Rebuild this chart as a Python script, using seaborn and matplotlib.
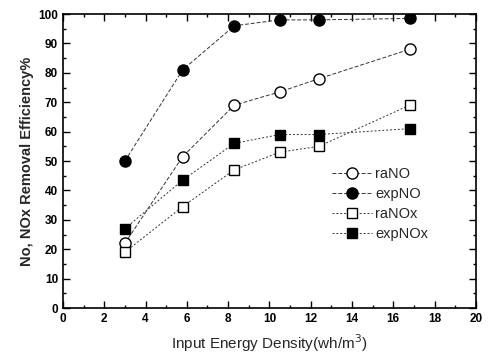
import matplotlib
matplotlib.use("Agg")
import matplotlib.pyplot as plt
import seaborn as sns
import pandas as pd
from matplotlib.ticker import MultipleLocator

energy = [3.0, 5.8, 8.3, 10.5, 12.4, 16.8]
raNO = [22, 51.5, 69, 73.5, 78, 88]
expNO = [50, 81, 96, 98, 98, 98.5]
raNOx = [19, 34.5, 47, 53, 55, 69]
expNOx = [27, 43.5, 56, 59, 59, 61]

sns.set_theme(style="ticks")
plt.rcParams['font.family'] = ['Liberation Sans', 'DejaVu Sans']

fig = plt.figure(figsize=(4.88, 3.59), dpi=100)
ax = fig.add_axes([0.129, 0.142, 0.846, 0.819])

series = [
    ("raNO", raNO, "o", "white", (0, (4, 2))),
    ("expNO", expNO, "o", "black", (0, (4, 2))),
    ("raNOx", raNOx, "s", "white", (0, (2, 2))),
    ("expNOx", expNOx, "s", "black", (0, (2, 2))),
]
for name, vals, mk, fc, ls in series:
    df = pd.DataFrame({"x": energy, "y": vals})
    sns.lineplot(data=df, x="x", y="y", ax=ax, color="#333333", lw=0.7,
                 linestyle=ls, marker=mk, markersize=8 if mk == "o" else 7,
                 markerfacecolor=fc, markeredgecolor="black",
                 markeredgewidth=1.0, label=name)

ax.set_xlim(0, 20)
ax.set_ylim(0, 100)
ax.xaxis.set_major_locator(MultipleLocator(2))
ax.xaxis.set_minor_locator(MultipleLocator(1))
ax.yaxis.set_major_locator(MultipleLocator(10))
ax.yaxis.set_minor_locator(MultipleLocator(5))
ax.tick_params(which="both", direction="in", top=True, right=True,
               labelsize=8.5, width=1.0, colors="black")
ax.tick_params(which="major", length=5)
ax.tick_params(which="minor", length=2.5)
for lab in ax.get_xticklabels() + ax.get_yticklabels():
    lab.set_fontweight("bold")
for sp in ax.spines.values():
    sp.set_linewidth(1.2)
    sp.set_color("black")

ax.set_xlabel("Input Energy Density(wh/m$^3$)", fontsize=11, labelpad=5)
ax.set_ylabel("No, NOx Removal Efficiency%", fontsize=10.5, fontweight="bold", labelpad=3)

leg = ax.legend(loc="center left", bbox_to_anchor=(0.652, 0.354), frameon=False,
                fontsize=10.5, handlelength=2.7, labelspacing=0.42, handletextpad=0.25,
                borderpad=0, borderaxespad=0)

fig.savefig("out.png", dpi=100)
